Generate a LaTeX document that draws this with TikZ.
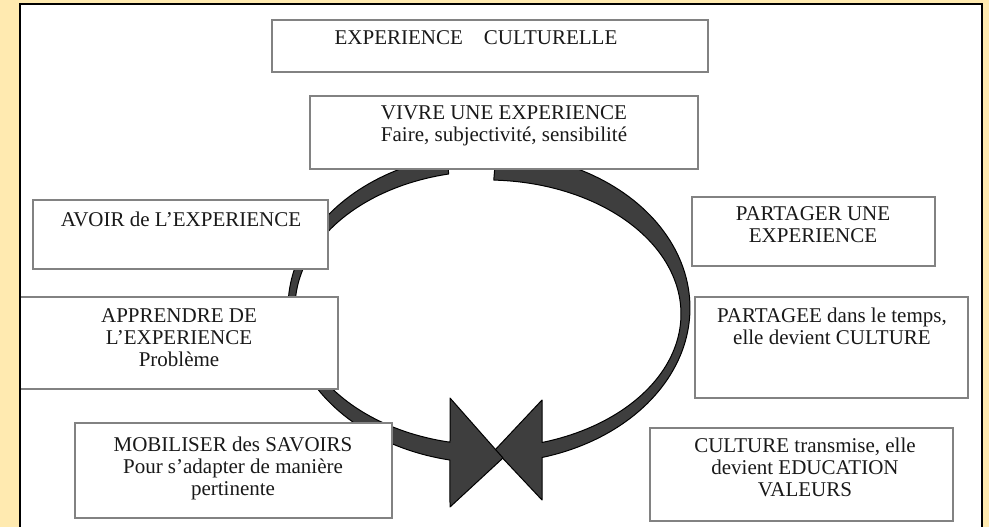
\documentclass[tikz,border=0pt]{standalone}
\usepackage{fontspec}
\setmainfont{Liberation Serif}
\definecolor{paper}{RGB}{255,234,176}
\definecolor{boxline}{RGB}{130,130,130}
\definecolor{ink}{RGB}{25,25,25}
\definecolor{ringfill}{RGB}{62,62,62}
\begin{document}
\begin{tikzpicture}[x=1pt,y=-1pt,
  box/.style={draw=boxline,fill=white,line width=1.3pt},
  lbl/.style={anchor=north,inner sep=0pt,align=center,text=ink,font=\fontsize{21}{22}\selectfont},
  ring/.style={fill=ringfill,draw=black,line width=1pt,line join=round}]
\clip (0,0) rectangle (989,527);
\fill[paper] (0,0) rectangle (989,527);
\fill[white] (20,4) rectangle (982,560);

% Ring
\draw[ring] plot[domain=272:434.7,samples=90] ({489+201*cos(\x)},{308+155*sin(\x)})
  -- (542,500) -- (495,450) -- (542,400)
  -- plot[domain=433.5:272,samples=90] ({487+194*cos(\x)},{314+134*sin(\x)}) -- cycle;
\draw[ring] plot[domain=258:101.2,samples=90] ({489+201*cos(\x)},{308+155*sin(\x)})
  -- (450,507) -- (503,458) -- (450,398)
  -- plot[domain=101.6:258,samples=90] ({489+194*cos(\x)},{308+137*sin(\x)}) -- cycle;

% Boxes
\draw[box] (272,20) rectangle (708,72);
\node[lbl] (titre) at (476,30) {EXPERIENCE\quad CULTURELLE};
\draw[box] (310,96) rectangle (698,169);
\node[lbl] (vivre) at (504,105) {VIVRE UNE EXPERIENCE\\Faire, subjectivité, sensibilité};
\draw[box] (33,200) rectangle (328,269);
\node[lbl] (avoir) at (181,212) {AVOIR de L’EXPERIENCE};
\draw[box] (20,297) rectangle (338,389);
\node[lbl] (apprendre) at (179,308) {APPRENDRE DE\\L’EXPERIENCE\\Problème};
\draw[box] (75,423) rectangle (392,518);
\node[lbl] (mobiliser) at (233,437) {MOBILISER des SAVOIRS\\Pour s’adapter de manière\\pertinente};
\draw[box] (692,197) rectangle (935,266);
\node[lbl] (partager) at (813,206) {PARTAGER UNE\\EXPERIENCE};
\draw[box] (695,297) rectangle (968,398);
\node[lbl] (partagee) at (832,308) {PARTAGEE dans le temps,\\elle devient CULTURE};
\draw[box] (650,428) rectangle (953,521);
\node[lbl] (transmise) at (805,438) {CULTURE transmise, elle\\devient EDUCATION\\VALEURS};

% Frame
\draw[line width=2.5pt] (20,4) rectangle (982,560);
\end{tikzpicture}
\end{document}
